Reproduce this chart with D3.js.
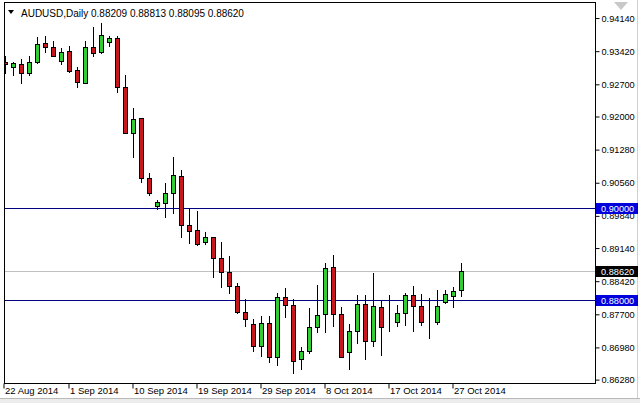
<!DOCTYPE html>
<html><head><meta charset="utf-8">
<script src="https://cdn.jsdelivr.net/npm/d3@7"></script>
<style>html,body{margin:0;padding:0;background:#fff;}svg{display:block;}</style>
</head><body>
<svg id="c" width="640" height="403"></svg>
<script>
const dates = ["22 Aug 2014","24 Aug 2014","25 Aug 2014","26 Aug 2014","27 Aug 2014","28 Aug 2014","29 Aug 2014","31 Aug 2014",
"1 Sep 2014","2 Sep 2014","3 Sep 2014","4 Sep 2014","5 Sep 2014","7 Sep 2014","8 Sep 2014","9 Sep 2014",
"10 Sep 2014","11 Sep 2014","12 Sep 2014","14 Sep 2014","15 Sep 2014","16 Sep 2014","17 Sep 2014","18 Sep 2014",
"19 Sep 2014","21 Sep 2014","22 Sep 2014","23 Sep 2014","24 Sep 2014","25 Sep 2014","26 Sep 2014","28 Sep 2014",
"29 Sep 2014","30 Sep 2014","1 Oct 2014","2 Oct 2014","3 Oct 2014","5 Oct 2014","6 Oct 2014","7 Oct 2014",
"8 Oct 2014","9 Oct 2014","10 Oct 2014","12 Oct 2014","13 Oct 2014","14 Oct 2014","15 Oct 2014","16 Oct 2014",
"17 Oct 2014","19 Oct 2014","20 Oct 2014","21 Oct 2014","22 Oct 2014","23 Oct 2014","24 Oct 2014","26 Oct 2014",
"27 Oct 2014","28 Oct 2014"];
const open  = [0.93174,0.93059,0.93124,0.92928,0.93167,0.93580,0.93493,0.93202,0.93407,0.93000,0.92724,0.93493,0.93398,0.93615,0.93689,0.92624,
0.91624,0.91950,0.90646,0.90043,0.90102,0.90320,0.90696,0.89630,0.89522,0.89267,0.89363,0.88907,0.88602,0.88304,0.87746,0.87478,
0.87007,0.87493,0.86754,0.88072,0.87885,0.86711,0.86898,0.87407,0.87689,0.88711,0.87689,0.86876,0.87320,0.87913,0.87115,0.87841,
0.87407,0.87528,0.87711,0.88109,0.87876,0.87543,0.87528,0.87963,0.88093,0.88209];
const high  = [0.93304,0.93180,0.93233,0.93304,0.93724,0.93739,0.93630,0.93472,0.93522,0.93059,0.93630,0.93941,0.94015,0.93739,0.93739,0.92891,
0.92167,0.91960,0.90767,0.90174,0.90537,0.91115,0.90826,0.89993,0.89941,0.89472,0.89376,0.89254,0.88957,0.88363,0.88022,0.87587,
0.87652,0.87652,0.88146,0.88267,0.88028,0.86972,0.87833,0.88326,0.88798,0.88978,0.87841,0.87478,0.88109,0.88109,0.88593,0.87985,
0.88109,0.87891,0.88146,0.88304,0.88130,0.88037,0.88217,0.88217,0.88289,0.88813];
const low   = [0.92935,0.92891,0.92711,0.92891,0.93146,0.93398,0.93304,0.93124,0.92963,0.92624,0.92711,0.93304,0.93363,0.93522,0.92528,0.91624,
0.91115,0.90572,0.90283,0.89972,0.89811,0.89885,0.89363,0.89246,0.89189,0.89211,0.88507,0.88289,0.88146,0.87711,0.87435,0.86898,
0.86789,0.86646,0.86594,0.87624,0.86407,0.86494,0.86841,0.87311,0.87311,0.87435,0.86760,0.86494,0.87072,0.86711,0.87000,0.86804,
0.87333,0.87435,0.87457,0.87333,0.87457,0.87167,0.87478,0.87941,0.87854,0.88095];
const close = [0.93130,0.93146,0.92928,0.93180,0.93565,0.93493,0.93311,0.93398,0.92972,0.92733,0.93493,0.93376,0.93761,0.93689,0.92624,0.91637,
0.91928,0.90646,0.90333,0.90137,0.90320,0.90717,0.89630,0.89507,0.89211,0.89363,0.88907,0.88602,0.88304,0.87746,0.87580,0.87007,
0.87493,0.86754,0.88072,0.87891,0.86680,0.86898,0.87407,0.87674,0.88689,0.87689,0.86767,0.87326,0.87913,0.87115,0.87870,0.87420,
0.87407,0.87711,0.88109,0.87876,0.87528,0.87543,0.87870,0.88124,0.88196,0.88620];
const priceTicks = [0.94140,0.93420,0.92700,0.92000,0.91280,0.90560,0.89840,0.89140,0.88420,0.87700,0.86980,0.86280];
const dateTicks = ["22 Aug 2014","1 Sep 2014","10 Sep 2014","19 Sep 2014","29 Sep 2014","8 Oct 2014","17 Oct 2014","27 Oct 2014"];
const levels = [0.90000, 0.88000];
const lastPrice = 0.88620;
const header = "AUDUSD,Daily";

const bars = dates.map((d,i)=>({d, o:open[i], h:high[i], l:low[i], c:close[i]}));
const svg = d3.select("#c");
const L=4, R=595, T=2, B=383;
const FONT = "Liberation Sans, Arial, sans-serif";

const x = d3.scaleBand().domain(dates).range([1, 1+8*dates.length]).paddingInner(0).paddingOuter(0);
const cx = d => Math.round(x(d) + x.bandwidth()/2);
const y = d3.scaleLinear().domain([0.88, 0.90]).range([300, 208]);
const py = v => Math.round(y(v));

// window chrome
svg.append("rect").attr("x",0).attr("y",398).attr("width",640).attr("height",5).attr("fill","#ececec");
svg.append("line").attr("x1",0).attr("x2",640).attr("y1",398.5).attr("y2",398.5).attr("stroke","#b8b8b8");
svg.append("line").attr("x1",637.5).attr("x2",637.5).attr("y1",0).attr("y2",398).attr("stroke","#d0d0d0");
svg.append("path").attr("d","M614,2 L628,2 L621,10 Z").attr("fill","#c8c8c8");

svg.append("defs").append("clipPath").attr("id","clip")
  .append("rect").attr("x",L+1).attr("y",T+1).attr("width",R-L-1).attr("height",B-T-1);
const plot = svg.append("g").attr("clip-path","url(#clip)");

// horizontal lines
plot.selectAll("line.lvl").data(levels).join("line").attr("class","lvl")
  .attr("x1",L).attr("x2",R).attr("y1",d=>py(d)+0.5).attr("y2",d=>py(d)+0.5)
  .attr("stroke","#000080").attr("stroke-width",1);
plot.append("line").attr("x1",L).attr("x2",R).attr("y1",py(lastPrice)+0.5).attr("y2",py(lastPrice)+0.5)
  .attr("stroke","#c0c0c0").attr("stroke-width",1);

// candles
const g = plot.selectAll("g.bar").data(bars).join("g").attr("class","bar");
g.append("line").attr("x1",d=>cx(d.d)+0.5).attr("x2",d=>cx(d.d)+0.5)
  .attr("y1",d=>py(d.h)).attr("y2",d=>py(d.l)+1).attr("stroke","#000").attr("stroke-width",1);
g.append("rect")
  .attr("x",d=>cx(d.d)-1.5).attr("width",4)
  .attr("y",d=>Math.min(py(d.o),py(d.c))+0.5)
  .attr("height",d=>Math.abs(py(d.o)-py(d.c)))
  .attr("fill",d=>d.c>d.o?"#32cd32":(d.c<d.o?"#c8181e":"#000"))
  .attr("stroke","#000").attr("stroke-width",1);

// frame
svg.append("rect").attr("x",L+0.5).attr("y",T+0.5).attr("width",R-L).attr("height",B-T)
  .attr("fill","none").attr("stroke","#000").attr("stroke-width",1);

// right axis
const yAxis = d3.axisRight(y).tickValues(priceTicks).tickSize(4).tickPadding(2).tickFormat(d=>d.toFixed(5));
const ya = svg.append("g").attr("transform",`translate(${R+0.5},0.5)`).call(yAxis);
ya.select(".domain").remove();
ya.selectAll("text").attr("font-family",FONT).attr("font-size",9.2).attr("fill","#000");
ya.selectAll("line").attr("stroke","#000");

// bottom axis
const xAxis = d3.axisBottom(x).tickValues(dateTicks).tickSize(5).tickFormat(d=>d);
const xa = svg.append("g").attr("transform",`translate(0,${B+0.5})`).call(xAxis);
xa.select(".domain").remove();
xa.selectAll(".tick").attr("transform",d=>`translate(${cx(d)+ (d===dateTicks[0]?-1:0)},0)`);
xa.selectAll("line").attr("stroke","#000");
xa.selectAll("text").attr("font-family",FONT).attr("font-size",9.5).attr("fill","#000")
  .attr("text-anchor","start").attr("x",1).attr("y",4).attr("dy","0.71em");

// price label boxes
const boxes = levels.map(v=>({v, bg:"#0000dd"})).concat([{v:lastPrice, bg:"#000"}]);
const bx = svg.selectAll("g.box").data(boxes).join("g").attr("class","box");
bx.append("rect").attr("x",R+1).attr("y",d=>py(d.v)-5).attr("width",42).attr("height",11).attr("fill",d=>d.bg);
bx.append("text").attr("x",R+6).attr("y",d=>py(d.v)+0.5).attr("dy","0.35em")
  .attr("font-family",FONT).attr("font-size",9.2).attr("fill","#fff").text(d=>d.v.toFixed(5));

// header
svg.append("path").attr("d","M8,10 L14,10 L11,14 Z").attr("fill","#000");
const last = bars[bars.length-1];
svg.append("text").attr("x",21).attr("y",17).attr("font-family",FONT).attr("font-size",10).attr("fill","#000")
  .text(header + "  " + [last.o,last.h,last.l,last.c].map(v=>v.toFixed(5)).join(" "));
</script>
</body></html>
